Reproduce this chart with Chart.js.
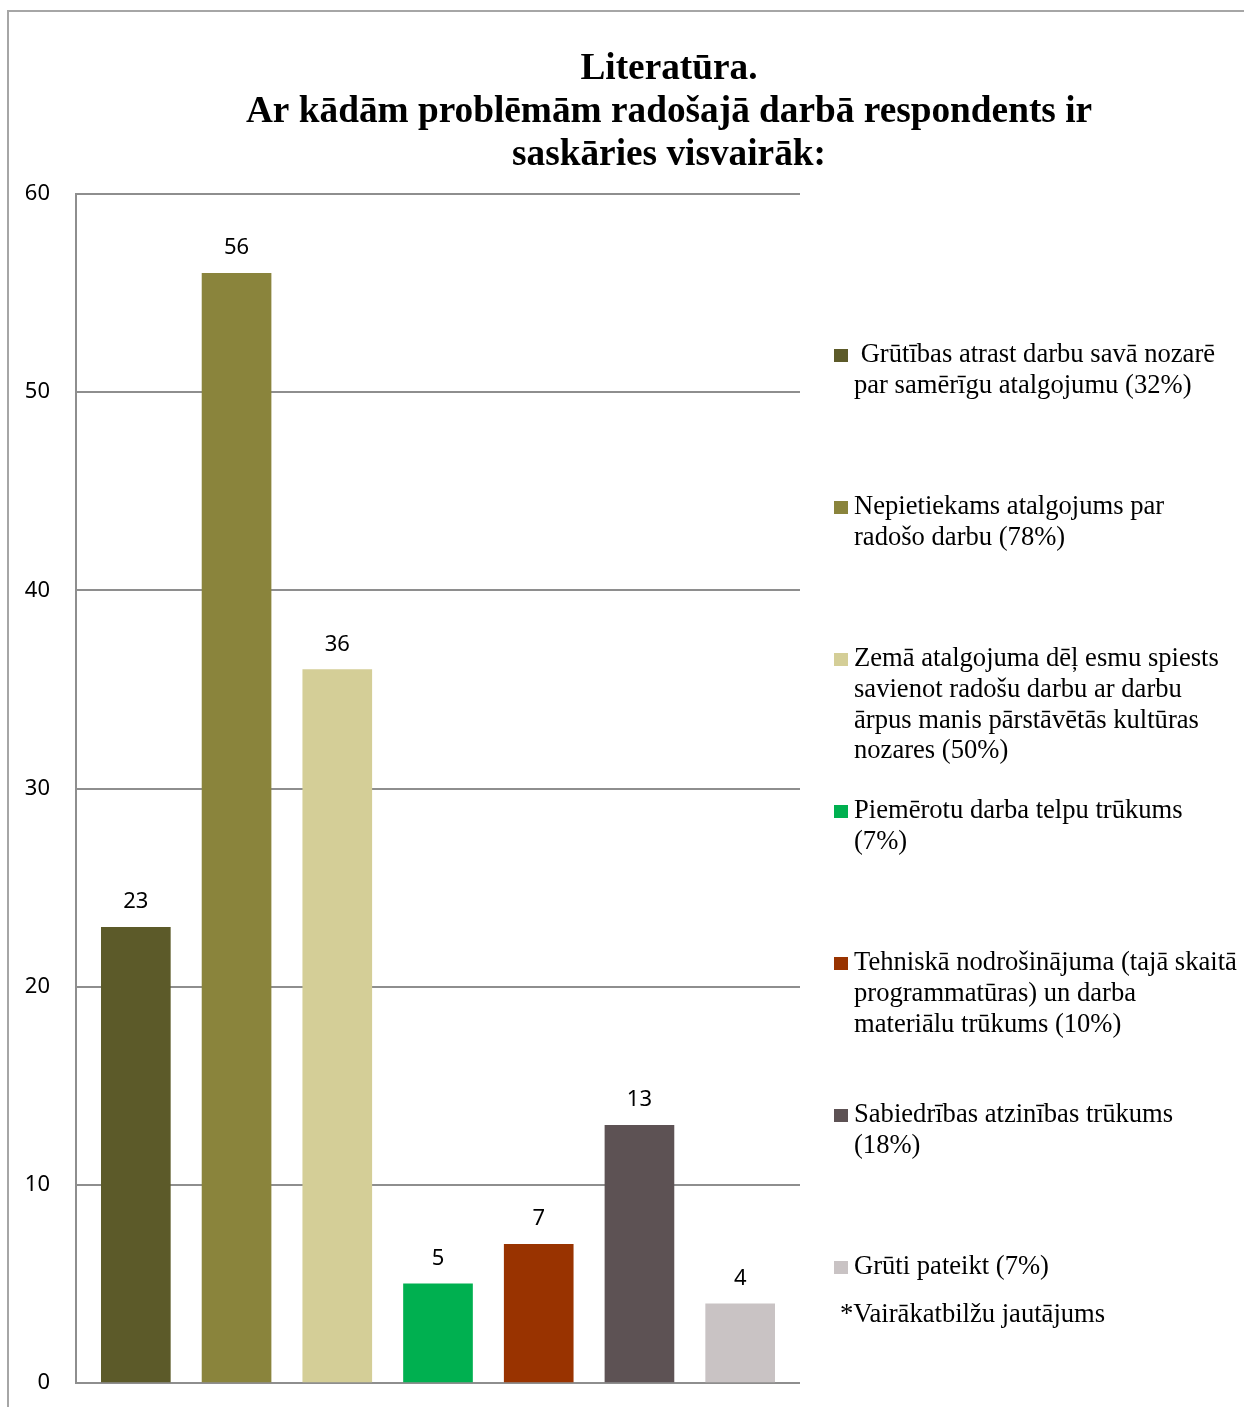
<!DOCTYPE html>
<html><head><meta charset="utf-8">
<script src="https://cdn.jsdelivr.net/npm/chart.js@4/dist/chart.umd.min.js"></script>
<style>
html,body{margin:0;padding:0;background:#fff;overflow:hidden;}
#wrap{position:relative;width:1244px;height:1407px;overflow:hidden;}
#frame{position:absolute;left:7px;top:10px;width:1400px;height:1500px;border-left:2px solid #a6a6a6;border-top:2px solid #a6a6a6;}
canvas{position:absolute;left:0;top:0;}
</style></head><body>
<div id="wrap"><div id="frame"></div><canvas id="c" width="1244" height="1407"></canvas></div>
<script>
const titleLines = ['Literatūra.', 'Ar kādām problēmām radošajā darbā respondents ir', 'saskāries visvairāk:'];
const categories = [
  [' Grūtības atrast darbu savā nozarē', 'par samērīgu atalgojumu (32%)'],
  ['Nepietiekams atalgojums par', 'radošo darbu (78%)'],
  ['Zemā atalgojuma dēļ esmu spiests', 'savienot radošu darbu ar darbu', 'ārpus manis pārstāvētās kultūras', 'nozares (50%)'],
  ['Piemērotu darba telpu trūkums', '(7%)'],
  ['Tehniskā nodrošinājuma (tajā skaitā', 'programmatūras) un darba', 'materiālu trūkums (10%)'],
  ['Sabiedrības atzinības trūkums', '(18%)'],
  ['Grūti pateikt (7%)']
];
const values = [23, 56, 36, 5, 7, 13, 4];
const colors = ['#5c5a29', '#8a843c', '#d4ce97', '#00b050', '#993300', '#5d5254', '#c9c3c4'];
const yMin = 0, yMax = 60, yStep = 10;
const footnote = '*Vairākatbilžu jautājums';

const points = values.map((v, i) => ({x: i, y: v}));

const valueLabels = {
  id: 'valueLabels',
  afterDatasetsDraw(chart) {
    const ctx = chart.ctx;
    const meta = chart.getDatasetMeta(0);
    ctx.save();
    ctx.font = '22px "Noto Sans"';
    ctx.fillStyle = '#000';
    ctx.textAlign = 'center';
    ctx.textBaseline = 'alphabetic';
    meta.data.forEach((bar, i) => {
      ctx.fillText(String(values[i]), bar.x, bar.y - 19);
    });
    ctx.restore();
  }
};

const titleLegend = {
  id: 'titleLegend',
  afterDraw(chart) {
    const ctx = chart.ctx;
    ctx.save();
    ctx.fillStyle = '#000';
    ctx.textBaseline = 'alphabetic';
    ctx.textAlign = 'center';
    ctx.font = 'bold 37.3px "Liberation Serif"';
    titleLines.forEach((t, i) => ctx.fillText(t, 669, 79 + i * 43));
    ctx.textAlign = 'left';
    ctx.font = '26.6px "Liberation Serif"';
    categories.forEach((lines, i) => {
      const base = 362 + i * 152;
      ctx.fillStyle = colors[i];
      ctx.fillRect(834, base - 13, 14, 13);
      ctx.fillStyle = '#000';
      lines.forEach((l, j) => ctx.fillText(l, 854, base + j * 30.8));
    });
    ctx.fillText(footnote, 840, 1322);
    ctx.restore();
  }
};

new Chart(document.getElementById('c'), {
  type: 'bar',
  data: {
    datasets: [{
      data: points,
      backgroundColor: colors,
      borderWidth: 0,
      barThickness: 69
    }]
  },
  options: {
    responsive: false,
    devicePixelRatio: 1,
    animation: false,
    layout: {padding: {left: 0, top: 194, right: 444, bottom: 24}},
    plugins: {legend: {display: false}, title: {display: false}, tooltip: {enabled: false}},
    scales: {
      x: {type: 'linear', display: false, offset: false, grid: {offset: false}, min: -0.594, max: 6.594},
      y: {
        min: yMin, max: yMax,
        afterFit(scale) { scale.width = 76; },
        ticks: {stepSize: yStep, color: '#000', font: {family: 'Noto Sans', size: 22}, padding: 0},
        grid: {color: '#8e8e8e', lineWidth: 2, drawTicks: true, tickLength: 26, tickColor: 'rgba(0,0,0,0)'},
        border: {display: true, color: '#8e8e8e', width: 2}
      }
    }
  },
  plugins: [valueLabels, titleLegend]
});
</script>
</body></html>
